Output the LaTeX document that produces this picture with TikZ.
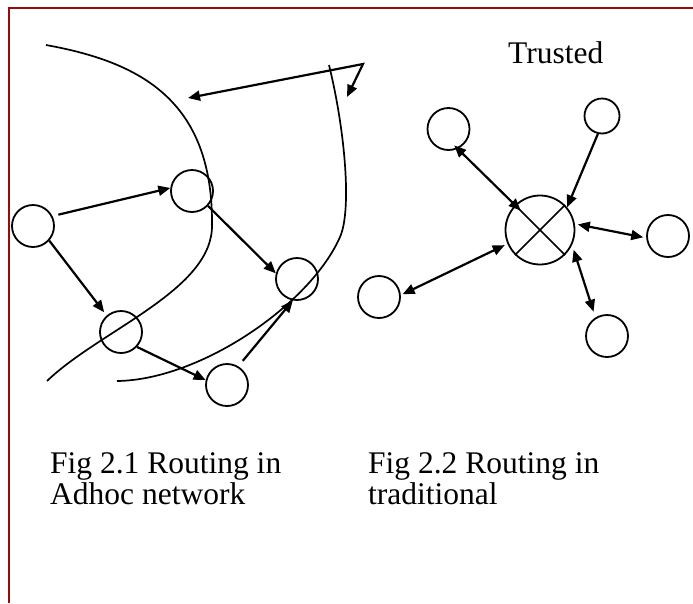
\documentclass[tikz,border=0pt]{standalone}
\usepackage{fontspec}
\setmainfont{Liberation Serif}
\usetikzlibrary{arrows.meta}
\definecolor{framered}{RGB}{150,12,12}
\begin{document}
\begin{tikzpicture}[x=1pt,y=-1pt,
  nd/.style={draw, circle, line width=1.8pt, minimum size=42pt, inner sep=0pt},
  tip/.tip={Triangle[length=12pt,width=10pt]},
  link/.style={line width=2.2pt, -tip},
  dlink/.style={line width=2.2pt, tip-tip},
  curve/.style={line width=1.7pt},
  lbl/.style={anchor=base west, inner sep=0pt, font=\fontsize{31.5}{31.5}\selectfont},
  framerule/.style={draw=framered, line width=2pt}]
\useasboundingbox (0,0) rectangle (693,603);

% frame
\draw[framerule] (9,603) -- (9,8) -- (693,8);

% --- ad hoc network ---
\draw[curve] (46,45) .. controls (140,62) and (213,100) .. (212,225)
                     .. controls (213,290) and (100,330) .. (47,381);
\draw[curve] (329,65) .. controls (345,130) and (352,210) .. (340,237)
                      .. controls (310,305) and (200,380) .. (117,381);

\node[nd] (a) at (33,226) {};
\node[nd] (b) at (192,191) {};
\node[nd] (c) at (297,279) {};
\node[nd] (d) at (121,332) {};
\node[nd] (e) at (227,385) {};

\draw[link, shorten <=6pt] (a.27) -- (b.172);
\draw[link, shorten >=4pt] (a.-42) -- (d.131);
\draw[link] (b.-43) -- (c.165);
\draw[link] (d.-43) -- (e.167);
\draw[link, shorten <=7pt] (e.59) -- (c.-101);

\coordinate (pk) at (363,64);
\coordinate (ta) at (188,98);
\coordinate (tb) at (347,97);
\draw[dlink] (ta) -- (pk) -- (tb);

% --- trusted network ---
\node[nd, minimum size=69pt] (hub) at (540,230) {};
\draw[curve] (hub.45) -- (hub.225);
\draw[curve] (hub.135) -- (hub.-45);

\node[nd] (tl) at (448.5,129) {};
\node[nd, minimum size=35pt] (tr) at (602,116) {};
\node[nd] (rt) at (668,236) {};
\node[nd] (bt) at (607,336) {};
\node[nd] (lt) at (379,297) {};

\draw[dlink, shorten <=-5pt, shorten >=-8pt] (tl.-65) -- (hub.135);
\draw[link] (tr.-103) -- (hub.40);
\draw[dlink, shorten <=3pt, shorten >=3pt] (hub.10) -- (rt.185);
\draw[dlink, shorten <=5pt, shorten >=6pt] (hub.-25) -- (bt.122);
\draw[dlink, shorten <=3pt, shorten >=2pt] (hub.203) -- (lt.5);

% --- labels ---
\node[lbl] (trusted) at (508,63) {Trusted};
\node[lbl] (cap1a) at (50,473) {Fig 2.1 Routing in};
\node[lbl] (cap1b) at (50,504) {Adhoc network};
\node[lbl] (cap2a) at (368,473) {Fig 2.2 Routing in};
\node[lbl] (cap2b) at (368,504) {traditional};
\end{tikzpicture}
\end{document}
